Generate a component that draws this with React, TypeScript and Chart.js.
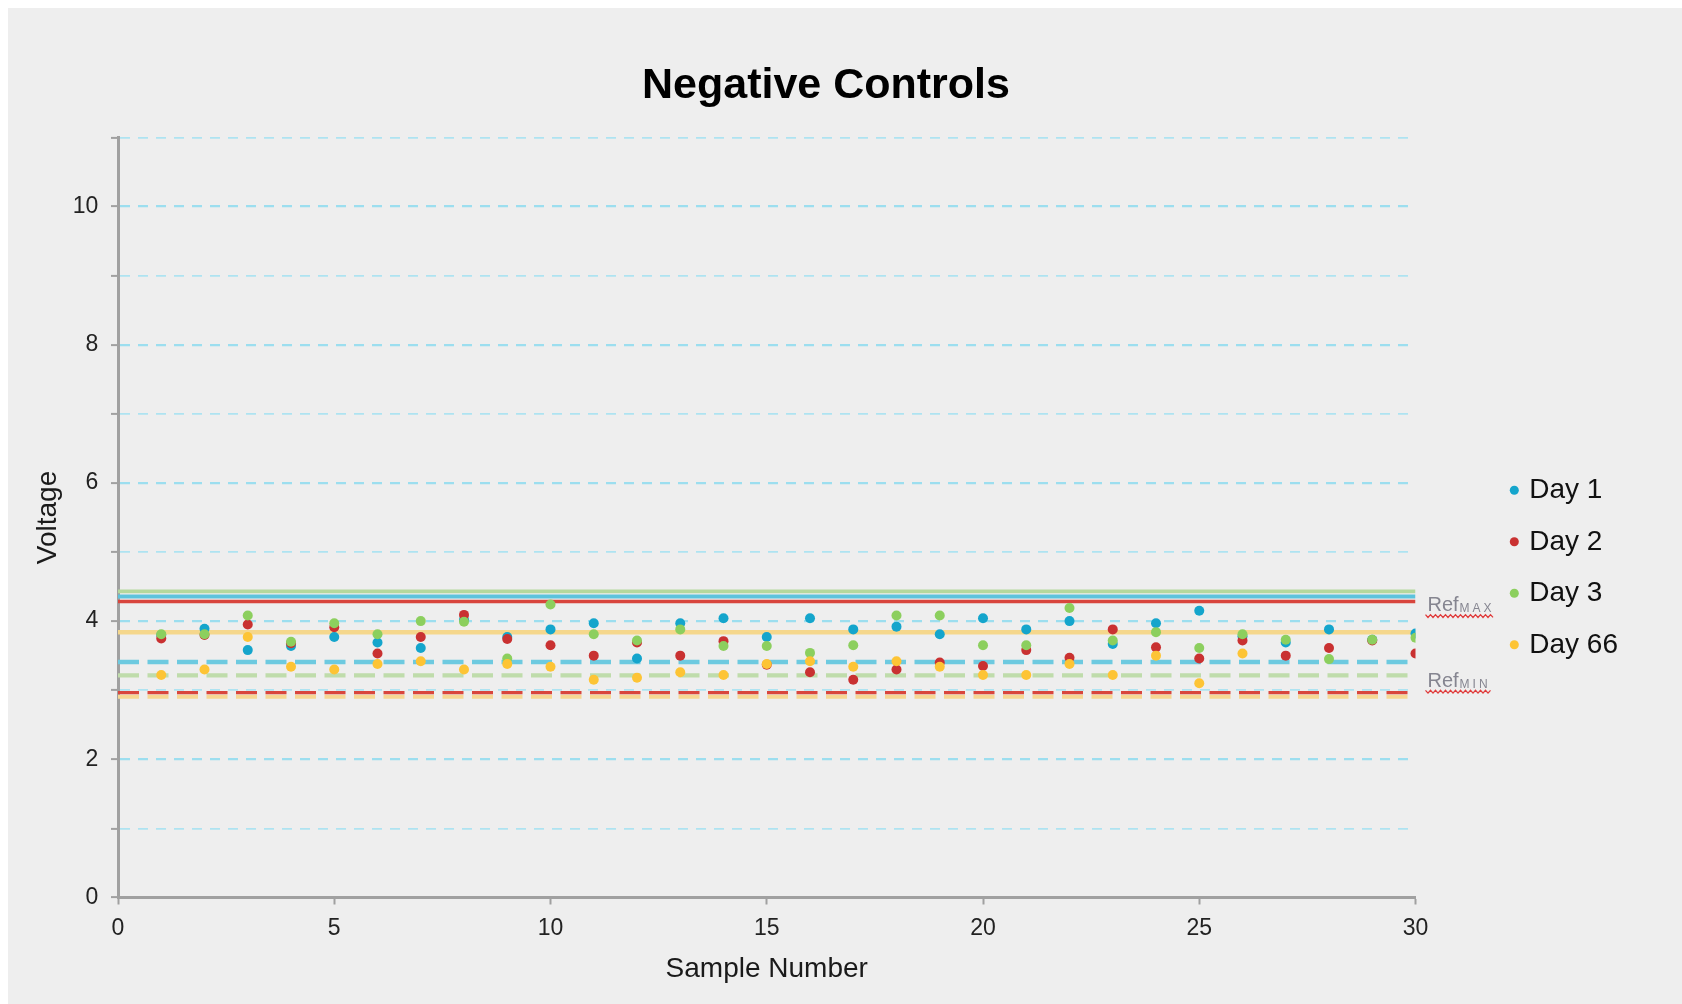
import React, { useEffect, useRef } from 'react';
import { Chart, registerables } from 'chart.js';

Chart.register(...registerables);

const FONT = "'Liberation Sans', Arial, Helvetica, sans-serif";
Chart.defaults.font.family = FONT;

// ---- data ----
const TITLE = 'Negative Controls';
const X_TITLE = 'Sample Number';
const Y_TITLE = 'Voltage';

const SERIES_LABELS = ['Day 1', 'Day 2', 'Day 3', 'Day 66'];
const SERIES_COLORS = ['#14a5cc', '#c93131', '#8ccf5e', '#fdc435'];

const DAY1 = [3.80, 3.89, 3.58, 3.64, 3.77, 3.69, 3.61, 4.02, 3.77, 3.88,
  3.97, 3.46, 3.97, 4.04, 3.77, 4.04, 3.88, 3.92, 3.81, 4.04,
  3.88, 4.00, 3.67, 3.97, 4.15, 3.78, 3.69, 3.88, 3.73, 3.82];
const DAY2 = [3.75, 3.80, 3.95, 3.68, 3.91, 3.53, 3.77, 4.09, 3.74, 3.65,
  3.50, 3.69, 3.50, 3.71, 3.37, 3.26, 3.15, 3.30, 3.40, 3.35,
  3.58, 3.47, 3.88, 3.62, 3.46, 3.72, 3.50, 3.61, 3.72, 3.53];
const DAY3 = [3.81, 3.81, 4.08, 3.70, 3.97, 3.81, 4.00, 3.99, 3.46, 4.24,
  3.81, 3.72, 3.88, 3.64, 3.64, 3.54, 3.65, 4.08, 4.08, 3.65,
  3.65, 4.19, 3.72, 3.84, 3.61, 3.81, 3.73, 3.45, 3.73, 3.76];
const DAY66 = [3.22, 3.30, 3.77, 3.34, 3.30, 3.38, 3.42, 3.30, 3.38, 3.34,
  3.15, 3.18, 3.26, 3.22, 3.38, 3.42, 3.34, 3.42, 3.34, 3.22,
  3.22, 3.38, 3.22, 3.50, 3.10, 3.53];
const SERIES_VALUES = [DAY1, DAY2, DAY3, DAY66];

// reference limits per day (solid = max, dashed = min)
const REF_MAX = [4.356, 4.284, 4.43, 3.839];
const REF_MIN = [3.409, 2.966, 3.214, 2.904];
const REF_MAX_COLORS = ['#5cc3dc', '#d8453d', '#b3d89c', '#f5d78c'];
const REF_MIN_COLORS = ['#6dcae0', '#d9463d', '#bfdcab', '#f7d792'];
const REF_MAX_WIDTHS = [4, 3.3, 3.7, 4.3];
const REF_MIN_WIDTHS = [4.5, 3.3, 4.2, 4];
const REF_X_RANGE = [0, 30];

const REF_LABELS = [
  { sub: 'MAX', value: 4.146 },
  { sub: 'MIN', value: 3.05 },
];

const X_MIN = 0;
const X_MAX = 30;
const X_STEP = 5;
const Y_MIN = 0;
const Y_MAX = 11;
const Y_STEP = 1;
const Y_LABELED_TICKS = [0, 2, 4, 6, 8, 10];

const refLabelPlugin = {
  id: 'refLabels',
  afterDatasetsDraw(chart: any) {
    const { ctx, chartArea, scales } = chart;
    const yScale = scales.y;
    REF_LABELS.forEach(({ sub, value }) => {
      const px = chartArea.right + 12;
      const py = yScale.getPixelForValue(value);
      ctx.save();
      ctx.textBaseline = 'alphabetic';
      ctx.textAlign = 'left';
      ctx.fillStyle = '#858590';
      ctx.font = `20px ${FONT}`;
      ctx.fillText('Ref', px, py);
      const w = ctx.measureText('Ref').width;
      ctx.font = `12px ${FONT}`;
      (ctx as any).letterSpacing = '3px';
      ctx.fillText(sub, px + w + 1, py + 1);
      const sw = ctx.measureText(sub).width;
      (ctx as any).letterSpacing = '0px';
      ctx.strokeStyle = '#e03a3a';
      ctx.lineWidth = 1.3;
      ctx.beginPath();
      const x0 = px - 2;
      const x1 = px + w + 1 + sw;
      const yy = py + 5;
      let i = 0;
      for (let x = x0; x <= x1; x += 2.5, i++) {
        const yv = yy + (i % 2 ? 1.4 : -1.4);
        if (i === 0) ctx.moveTo(x, yv);
        else ctx.lineTo(x, yv);
      }
      ctx.stroke();
      ctx.restore();
    });
  },
};

export default function App() {
  const canvasRef = useRef<HTMLCanvasElement | null>(null);

  useEffect(() => {
    if (!canvasRef.current) return;

    const pointSets = SERIES_VALUES.map((vals, i) => ({
      type: 'scatter' as const,
      label: SERIES_LABELS[i],
      data: vals.map((v, k) => ({ x: k + 1, y: v })),
      backgroundColor: SERIES_COLORS[i],
      borderColor: SERIES_COLORS[i],
      borderWidth: 0,
      pointRadius: 5,
      pointHoverRadius: 5,
      pointBorderWidth: 0,
      showLine: false,
      order: 4 - i,
    }));

    const maxLines = REF_MAX.map((v, i) => ({
      type: 'scatter' as const,
      label: `${SERIES_LABELS[i]} Ref MAX`,
      data: REF_X_RANGE.map((x) => ({ x, y: v })),
      showLine: true,
      borderColor: REF_MAX_COLORS[i],
      backgroundColor: REF_MAX_COLORS[i],
      borderWidth: REF_MAX_WIDTHS[i],
      pointRadius: 0,
      pointHoverRadius: 0,
      order: 10 + i,
    }));

    const minLines = REF_MIN.map((v, i) => ({
      type: 'scatter' as const,
      label: `${SERIES_LABELS[i]} Ref MIN`,
      data: REF_X_RANGE.map((x) => ({ x, y: v })),
      showLine: true,
      borderColor: REF_MIN_COLORS[i],
      backgroundColor: REF_MIN_COLORS[i],
      borderWidth: REF_MIN_WIDTHS[i],
      borderDash: [21, 8.5],
      pointRadius: 0,
      pointHoverRadius: 0,
      order: 20 + i,
    }));

    const chart = new Chart(canvasRef.current, {
      type: 'scatter',
      data: { datasets: [...pointSets, ...maxLines, ...minLines] as any },
      plugins: [refLabelPlugin],
      options: {
        animation: false,
        responsive: true,
        maintainAspectRatio: false,
        events: [],
        layout: { padding: { left: 22.2, right: 60.2, top: 0, bottom: 0 } },
        plugins: {
          tooltip: { enabled: false },
          title: {
            display: true,
            text: TITLE,
            color: '#000',
            font: { size: 43, weight: 'bold', family: FONT, lineHeight: 1.2 },
            padding: { top: 52.7, bottom: 25.1 },
          },
          legend: {
            display: true,
            position: 'right',
            align: 'start',
            maxWidth: 132,
            title: {
              display: true,
              text: ' ',
              font: { size: 10, lineHeight: 1 },
              padding: { top: 434.8, bottom: 0 },
            },
            labels: {
              usePointStyle: true,
              boxWidth: 2,
              boxHeight: 6.4,
              padding: 23.5,
              color: '#111',
              font: { size: 28, family: FONT },
              filter: (item: any) => item.datasetIndex < 4,
              sort: (a: any, b: any) => a.datasetIndex - b.datasetIndex,
            },
          },
        },
        scales: {
          x: {
            type: 'linear',
            position: 'bottom',
            min: X_MIN,
            max: X_MAX,
            afterFit: (s: any) => { s.height = 106.5; },
            ticks: {
              stepSize: X_STEP,
              color: '#222',
              font: { size: 23, family: FONT, lineHeight: 1.2 },
              padding: 10,
              maxRotation: 0,
            },
            grid: {
              display: true,
              drawOnChartArea: false,
              drawTicks: true,
              tickLength: 7,
              tickColor: '#a0a0a0',
              tickWidth: 2,
            },
            border: { display: true, color: '#a0a0a0', width: 3 },
            title: {
              display: true,
              text: X_TITLE,
              color: '#1a1a1a',
              font: { size: 28, family: FONT, lineHeight: 1.2 },
              padding: { top: 0, bottom: 18 },
            },
          },
          y: {
            type: 'linear',
            position: 'left',
            min: Y_MIN,
            max: Y_MAX,
            afterFit: (s: any) => { s.width = 87.8; },
            ticks: {
              stepSize: Y_STEP,
              color: '#222',
              font: { size: 23, family: FONT },
              padding: 12.7,
              callback: (v: any) => (Y_LABELED_TICKS.includes(Number(v)) ? String(v) : ''),
            },
            grid: {
              display: true,
              drawOnChartArea: true,
              drawTicks: true,
              tickLength: 7,
              tickColor: '#a0a0a0',
              tickWidth: 2,
              color: (c: any) => (c.tick && c.tick.value % 2 === 0 ? '#9cdeef' : '#aee3f1'),
              lineWidth: (c: any) => (c.tick && c.tick.value % 2 === 0 ? 2.2 : 1.8),
            },
            border: { display: true, color: '#a0a0a0', width: 3, dash: [10, 8] },
            title: {
              display: true,
              text: Y_TITLE,
              color: '#1a1a1a',
              font: { size: 28, family: FONT, lineHeight: 1.271 },
              padding: 0,
            },
          },
          spacer: {
            type: 'linear',
            position: 'right',
            display: true,
            afterFit: (s: any) => { s.width = 74.3; },
            ticks: { display: false },
            grid: { display: false, drawTicks: false },
            border: { display: false },
            title: { display: false },
          },
        },
      } as any,
    });

    return () => chart.destroy();
  }, []);

  return (
    <div
      style={{
        position: 'fixed',
        left: 8,
        top: 8,
        width: 1674,
        height: 996,
        background: '#eeeeee',
      }}
    >
      <canvas ref={canvasRef} />
    </div>
  );
}
